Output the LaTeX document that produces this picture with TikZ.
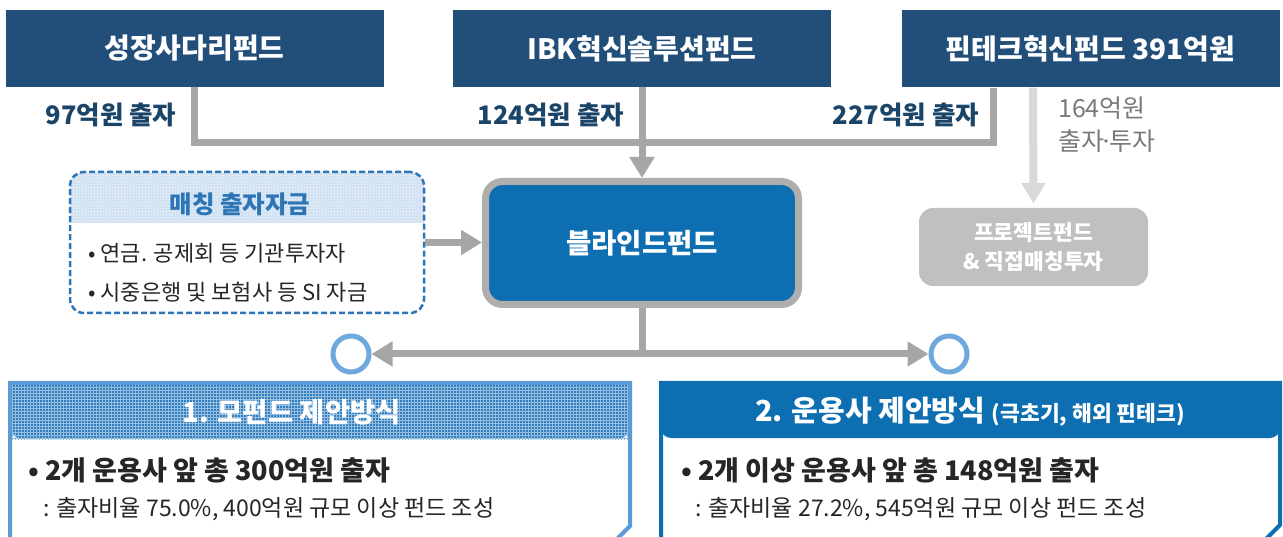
\documentclass[tikz,border=0pt]{standalone}
\usepackage{fontspec}
\setmainfont{Noto Sans CJK KR}
\usetikzlibrary{arrows.meta,patterns}
\definecolor{navy}{HTML}{214F79}
\definecolor{labnavy}{HTML}{1A4468}
\definecolor{lgrey}{HTML}{A6A6A6}
\definecolor{xgrey}{HTML}{D9D9D9}
\definecolor{pgrey}{HTML}{C0C0C0}
\definecolor{tgrey}{HTML}{7A7A7A}
\definecolor{bfblue}{HTML}{0D6FB2}
\definecolor{bfborder}{HTML}{B0ADAD}
\definecolor{mblue}{HTML}{2E75B6}
\definecolor{mlight}{HTML}{CFE0F1}
\definecolor{cblue}{HTML}{6FA8DC}
\definecolor{pblue}{HTML}{5B9BD5}
\definecolor{hblue}{HTML}{2F7EC0}
\definecolor{rblue}{HTML}{0E6EB2}
\definecolor{body}{HTML}{262626}
\begin{document}
\begin{tikzpicture}[x=1pt,y=-1pt,
  topbox/.style={fill=navy, text=white, font=\bfseries\fontsize{28}{28}\selectfont, minimum width=378pt, minimum height=77pt, inner sep=0pt},
  lab/.style={text=labnavy, font=\bfseries\fontsize{25.5}{25.5}\selectfont, inner sep=0pt},
  gline/.style={draw=lgrey, line width=7pt},
  garrow/.style={gline, -{Triangle[length=21pt,width=24pt]}},
  larrow/.style={draw=xgrey, line width=8pt, -{Triangle[length=21pt,width=23pt]}},
  bullet/.style={text=body, font=\fontsize{22}{22}\selectfont, inner sep=0pt, anchor=west},
  bodybold/.style={text=body, font=\bfseries\fontsize{27}{27}\selectfont, inner sep=0pt, anchor=west},
  bodysub/.style={text=body, font=\fontsize{23}{23}\selectfont, inner sep=0pt, anchor=west},
  hdr/.style={text=white, font=\bfseries\fontsize{27.5}{27.5}\selectfont, inner sep=0pt},
  ring/.style={circle, draw=cblue, line width=5pt, fill=white, minimum size=36pt, inner sep=0pt}
]
\clip (0,0) rectangle (1283,537);
\fill[white] (0,0) rectangle (1283,537);

% top boxes
\node[topbox] (t1) at (194.5,48.5) {성장사다리펀드};
\node[topbox] (t2) at (642,48.5) {IBK혁신솔루션펀드};
\node[topbox] (t3) at (1090.5,49) {핀테크혁신펀드 391억원};

% labels
\node[lab] (l1) at (111,115) {97억원 출자};
\node[lab] (l2) at (551,115) {124억원 출자};
\node[lab] (l3) at (906,115) {227억원 출자};
\node[text=tgrey, font=\fontsize{25}{33}\selectfont, inner sep=0pt, anchor=north west, align=left] (l4) at (1058,97) {164억원\\출자{\kern-0.18em·\kern-0.18em}투자};

% blind fund
\node[draw=bfborder, line width=7pt, fill=bfblue, rounded corners=17pt, minimum width=313pt, minimum height=123pt, inner sep=0pt, text=white, font=\bfseries\fontsize{27.5}{27.5}\selectfont] (blind) at (642,243) {블라인드펀드};

% matching box
\begin{scope}
\clip[rounded corners=14pt] (70,172) rectangle (424,313);
\fill[mlight] (70,172) rectangle (424,223);
\fill[pattern=crosshatch dots, pattern color=white] (70,172) rectangle (424,223);
\end{scope}
\node[draw=mblue, dashed, dash pattern=on 6pt off 3pt, line width=2.5pt, rounded corners=14pt, minimum width=354pt, minimum height=141pt, inner sep=0pt] (match) at (247,242.5) {};
\node[text=mblue, font=\bfseries\fontsize{24.5}{24.5}\selectfont, inner sep=0pt] (mt) at (240,204) {매칭 출자자금};
\node[bullet] (mb1) at (88,253) {• 연금. 공제회 등 기관투자자};
\node[bullet] (mb2) at (88,292) {• 시중은행 및 보험사 등 SI 자금};

% project box
\node[fill=pgrey, rounded corners=14pt, minimum width=229pt, minimum height=78pt, inner sep=0pt, text=white, font=\bfseries\fontsize{21.5}{29}\selectfont, align=center] (proj) at (1033.5,247) {프로젝트펀드\\\& 직접매칭투자};

% rings
\node[ring] (c1) at (351,354) {};
\node[ring] (c2) at (949,354) {};

% connectors
\coordinate (x3) at (993,143);
\coordinate (x4) at (1033,0);
\draw[gline] (t1.south) |- (x3) -- (t3.south -| x3);
\draw[garrow] (t2.south) -- (blind.north);
\draw[garrow] (match.east) -- (match.east -| blind.west);
\draw[larrow, shorten >=4pt] (t3.south -| x4) -- (proj.north);
\coordinate (j) at (blind.south |- c1);
\draw[gline] (blind.south) -- (j);
\draw[garrow] (j) -- (c1);
\draw[garrow] (j) -- (c2);

% bottom panels
\begin{scope}
\clip (0,383) rectangle (1283,537);
\fill[hblue, rounded corners=10pt] (12,360) rectangle (628,439);
\fill[pattern=grid, pattern color=white!50!hblue] (12,360) rectangle (628,439);
\fill[rblue, rounded corners=10pt] (661,360) rectangle (1280,438);
\end{scope}
\draw[pblue, line width=4pt] (10,545) -- (10,383) -- (630,383) -- (630,526) -- (619,537) -- (614,542);
\draw[rblue, line width=4pt] (661,545) -- (661,383) -- (1280,383) -- (1280,525) -- (1268,537) -- (1263,542);

\node[hdr] (h1) at (292,412) {1. 모펀드 제안방식};
\node[hdr] (h2) at (970,412) {\fontsize{29}{29}\selectfont 2. 운용사 제안방식 {\fontsize{21.5}{21.5}\selectfont (극초기, 해외 핀테크)}};

\node[bodybold] (b1) at (28,470) {• 2개 운용사 앞 총 300억원 출자};
\node[bodysub] (s1) at (43,509) {: 출자비율 75.0\%, 400억원 규모 이상 펀드 조성};
\node[bodybold] (b2) at (681,470) {• 2개 이상 운용사 앞 총 148억원 출자};
\node[bodysub] (s2) at (695,509) {: 출자비율 27.2\%, 545억원 규모 이상 펀드 조성};
\end{tikzpicture}
\end{document}
